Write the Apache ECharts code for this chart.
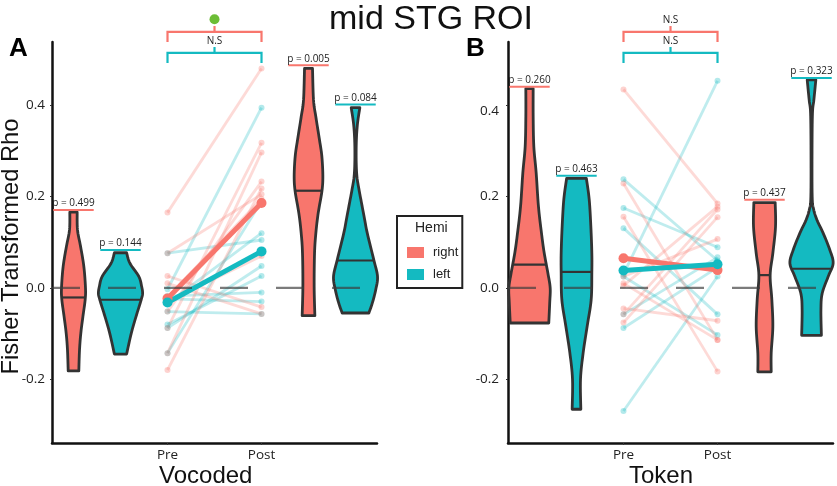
<!DOCTYPE html>
<html><head><meta charset="utf-8">
<style>html,body{margin:0;padding:0;background:#fff}#c{width:837px;height:486px}</style>
<script src="https://cdn.jsdelivr.net/npm/echarts@6/dist/echarts.min.js"></script>
</head><body><div id="c"></div>
<script>
const RED='#F8766D', TEAL='#14BAC1', DARK='#333333';
const yTicks=[-0.2,0,0.2,0.4];
// violin profiles: [rho, half-density]
const vocRightA=[[.166,.078],[.127,.085],[.091,.15],[.047,.22],[0,.255],[-.026,.248],[-.063,.2],[-.099,.156],[-.136,.128],[-.182,.113]];
const vocLeftA=[[.077,.13],[.054,.2],[.025,.39],[.003,.45],[-.012,.47],[-.026,.44],[-.063,.33],[-.099,.23],[-.145,.13]];
const vocRightB=[[.481,.085],[.412,.106],[.375,.156],[.324,.234],[.288,.284],[.244,.305],[.211,.284],[.164,.206],[.12,.156],[.076,.128],[.003,.12],[-.061,.135]];
const vocLeftB=[[.395,.092],[.361,.043],[.324,.018],[.28,.014],[.244,.03],[.215,.075],[.193,.115],[.155,.185],[.12,.25],[.061,.39],[.025,.468],[-.004,.43],[-.034,.355],[-.055,.284]];
const tokRightA=[[.437,.078],[.376,.078],[.31,.092],[.252,.142],[.179,.19],[.12,.255],[.077,.312],[.033,.39],[0,.44],[-.033,.43],[-.077,.41]];
const tokLeftA=[[.24,.21],[.194,.27],[.135,.305],[.077,.326],[.033,.326],[-.026,.312],[-.084,.227],[-.142,.142],[-.2,.085],[-.266,.092]];
const tokRightB=[[.187,.227],[.134,.234],[.076,.177],[.028,.12],[-.026,.156],[-.085,.177],[-.143,.142],[-.184,.142]];
const tokLeftB=[[.456,.092],[.412,.05],[.383,.02],[.302,.011],[.2,.014],[.172,.045],[.148,.12],[.12,.248],[.083,.39],[.054,.46],[.025,.355],[-.012,.227],[-.048,.2],[-.104,.21]];
const vocMedians=[-.021,-.026,.213,.06];
const tokMedians=[.051,.035,.028,.042];
// subject pairs [pre, post]
const vocRightPairs=[[.165,.481],[-.088,.318],[-.143,.297],[-.052,.233],[-.18,.218],[.076,.205],[-.02,.195],[-.03,.07],[.026,-.042],[.01,-.057]];
const vocLeftPairs=[[-.003,.395],[-.143,.19],[-.034,.12],[.076,.105],[-.088,.048],[-.08,.026],[-.018,-.01],[-.024,-.03],[-.052,-.057]];
const tokRightPairs=[[.435,.185],[.229,-.114],[.156,-.183],[.025,.107],[.01,-.114],[-.045,-.072],[-.058,.172],[-.076,.155],[.005,.178]];
const tokLeftPairs=[[-.27,.025],[.03,.454],[.238,.06],[.175,.089],[.131,-.058],[.025,-.103],[-.058,.067],[-.088,.045]];
const vocMeanRight=[-.023,.186], vocMeanLeft=[-.032,.08];
const tokMeanRight=[.065,.039], tokMeanLeft=[.038,.052];
// p-value labels: [slot, bar level, text]
const vocP=[[1,.171,'p = 0.499',RED],[2,.083,'p = 0.144',TEAL],[6,.488,'p = 0.005',RED],[7,.402,'p = 0.084',TEAL]];
const tokP=[[1,.441,'p = 0.260',RED],[2,.246,'p = 0.463',TEAL],[6,.193,'p = 0.437',RED],[7,.46,'p = 0.323',TEAL]];
const preSlot=3, postSlot=5, midSlot=4;
const bracketRight=[.561,.539,.574], bracketLeft=[.515,.493,.528];
const vocNotes=[[.541,'N.S']];
const tokNotes=[[.541,'N.S'],[.587,'N.S']];
const sigDot=[[midSlot,.589]];
const xMin=.5426, xMax=7.457, yMin=-.34, yMax=.539;

function smooth(p){
  const out=[];
  for(let i=0;i<p.length-1;i++){
    const a=p[Math.max(i-1,0)],b=p[i],c=p[i+1],d=p[Math.min(i+2,p.length-1)];
    for(let k=0;k<8;k++){
      const t=k/8,t2=t*t,t3=t2*t;
      out.push([0,1].map(j=>.5*(2*b[j]+(c[j]-a[j])*t+(2*a[j]-5*b[j]+4*c[j]-d[j])*t2+(3*b[j]-a[j]-3*c[j]+d[j])*t3)));
    }
  }
  out.push(p[p.length-1]);
  return out;
}
function widthAt(prof,v){
  for(let i=0;i<prof.length-1;i++){
    const a=prof[i],b=prof[i+1];
    if(v<=a[0]&&v>=b[0]) return a[1]+(b[1]-a[1])*(a[0]-v)/(a[0]-b[0]);
  }
  return prof[0][1];
}
function violin(g,slot,prof,med,color){
  return {type:'custom',xAxisIndex:g,yAxisIndex:g,z:3,silent:true,data:[[slot,med]],
    renderItem(params,api){
      const right=smooth(prof.map(r=>api.coord([slot+r[1],r[0]])));
      const left=smooth(prof.map(r=>api.coord([slot-r[1],r[0]]))).reverse();
      const w=widthAt(prof,med);
      const m0=api.coord([slot-w,med]),m1=api.coord([slot+w,med]);
      return {type:'group',children:[
        {type:'polygon',shape:{points:right.concat(left)},style:{fill:color,stroke:DARK,lineWidth:2.8,lineJoin:'round'}},
        {type:'line',shape:{x1:m0[0],y1:m0[1],x2:m1[0],y2:m1[1]},style:{stroke:DARK,lineWidth:2.2}}
      ]};
    }};
}
function pairs(g,rows,color){
  return rows.map(r=>({type:'line',xAxisIndex:g,yAxisIndex:g,z:2,silent:true,clip:false,
    data:[[preSlot,r[0]],[postSlot,r[1]]],symbol:'circle',symbolSize:6,animation:false,
    lineStyle:{color,width:2.8,opacity:.27},itemStyle:{color,opacity:.32}}));
}
function mean(g,name,vals,color){
  return {type:'line',name,xAxisIndex:g,yAxisIndex:g,z:4,silent:true,clip:false,
    data:[[preSlot,vals[0]],[postSlot,vals[1]]],symbol:'circle',symbolSize:10,
    lineStyle:{color,width:5},itemStyle:{color}};
}
function pLabels(g,rows){
  return {type:'custom',xAxisIndex:g,yAxisIndex:g,z:6,silent:true,data:rows.map(r=>[r[0],r[1]]),
    renderItem(params,api){
      const r=rows[params.dataIndex];
      const a=api.coord([r[0]-.43,r[1]]),b=api.coord([r[0]+.43,r[1]]);
      return {type:'group',children:[
        {type:'line',shape:{x1:a[0],y1:a[1],x2:b[0],y2:b[1]},style:{stroke:r[3],lineWidth:2}},
        {type:'text',style:{text:r[2],x:(a[0]+b[0])/2,y:a[1]-1.5,align:'center',verticalAlign:'bottom',fill:'#222',font:'10px "Open Sans"'}}
      ]};
    }};
}
function bracket(g,b,color){
  return {type:'custom',xAxisIndex:g,yAxisIndex:g,z:6,silent:true,data:[[midSlot,b[0]]],
    renderItem(params,api){
      const p=[[preSlot,b[1]],[preSlot,b[0]],[postSlot,b[0]],[postSlot,b[1]]].map(q=>api.coord(q));
      const s0=api.coord([midSlot,b[0]]),s1=api.coord([midSlot,b[2]]);
      return {type:'group',children:[
        {type:'polyline',shape:{points:p},style:{stroke:color,lineWidth:2.2,fill:null}},
        {type:'line',shape:{x1:s0[0],y1:s0[1],x2:s1[0],y2:s1[1]},style:{stroke:color,lineWidth:2.2}}
      ]};
    }};
}
function notes(g,rows){
  return {type:'custom',xAxisIndex:g,yAxisIndex:g,z:6,silent:true,data:rows.map(r=>[midSlot,r[0]]),
    renderItem(params,api){
      const r=rows[params.dataIndex],p=api.coord([midSlot,r[0]]);
      return {type:'text',style:{text:r[1],x:p[0],y:p[1],align:'center',verticalAlign:'middle',fill:'#222',font:'10px "Open Sans"'}};
    }};
}
function zero(g){
  return {type:'line',xAxisIndex:g,yAxisIndex:g,z:5,silent:true,symbol:'none',
    data:[[xMin,0],[xMax,0]],lineStyle:{color:'rgba(60,60,60,.68)',width:2.3,type:[28,28]}};
}
function xAx(g){
  return {type:'value',gridIndex:g,min:xMin,max:xMax,splitLine:{show:false},
    axisLine:{onZero:false,lineStyle:{color:'#111',width:2.5}},
    axisTick:{customValues:[preSlot,postSlot],length:2,lineStyle:{color:'#333'}},
    axisLabel:{customValues:[preSlot,postSlot],margin:5,fontFamily:'Open Sans',fontSize:13.5,color:'#222',
      formatter:v=>v===preSlot?'Pre':'Post',hideOverlap:false,showMinLabel:true,showMaxLabel:true}};
}
function yAx(g,labels,margin){
  return {type:'value',gridIndex:g,min:yMin,max:yMax,splitLine:{show:false},
    axisLine:{onZero:false,lineStyle:{color:'#111',width:2.5}},
    axisTick:{customValues:yTicks,length:2,lineStyle:{color:'#333'}},
    axisLabel:{customValues:labels,margin,fontFamily:'Open Sans',fontSize:13.5,color:'#222',formatter:v=>v.toFixed(1)}};
}
const option={
  animation:false,
  textStyle:{fontFamily:'Liberation Sans'},
  title:[
    {text:'mid STG ROI',left:324,top:-2,textStyle:{fontFamily:'Liberation Sans',fontSize:34,fontWeight:'normal',color:'#111'}},
    {text:'A',left:9,top:36,padding:0,textStyle:{fontFamily:'Liberation Sans',fontSize:26,fontWeight:'bold',color:'#000'}},
    {text:'B',left:466,top:36,padding:0,textStyle:{fontFamily:'Liberation Sans',fontSize:26,fontWeight:'bold',color:'#000'}},
    {text:'Vocoded',left:159,top:464,padding:0,textStyle:{fontFamily:'Liberation Sans',fontSize:24,fontWeight:'normal',color:'#111'}},
    {text:'Token',left:629,top:464,padding:0,textStyle:{fontFamily:'Liberation Sans',fontSize:24,fontWeight:'normal',color:'#111'}}
  ],
  legend:{show:true,orient:'vertical',left:397,top:216,data:['right','left'],icon:'rect',itemWidth:17,itemHeight:11,itemGap:9,
    padding:[30,4,7,10],borderColor:'#222',borderWidth:2,selectedMode:false,
    textStyle:{fontFamily:'Liberation Sans',fontSize:13,color:'#222',padding:[0,0,0,4]}},
  graphic:[
    {type:'text',left:415,top:221,style:{text:'Hemi',font:'14px "Liberation Sans"',fill:'#222'}},
    {type:'text',x:11,y:246.5,rotation:Math.PI/2,style:{text:'Fisher Transformed Rho',align:'center',verticalAlign:'middle',font:'23.7px "Liberation Sans"',fill:'#111'}}
  ],
  grid:[{left:52,top:42,width:325,height:401},{left:508,top:42,width:325,height:401}],
  xAxis:[xAx(0),xAx(1)],
  yAxis:[yAx(0,yTicks,7),yAx(1,[-.2,0,.2,.388],9)],
  series:[
    ...pairs(0,vocLeftPairs,TEAL),...pairs(0,vocRightPairs,RED),
    ...pairs(1,tokLeftPairs,TEAL),...pairs(1,tokRightPairs,RED),
    mean(0,'right',vocMeanRight,RED),mean(0,'left',vocMeanLeft,TEAL),
    mean(1,'right',tokMeanRight,RED),mean(1,'left',tokMeanLeft,TEAL),
    violin(0,1,vocRightA,vocMedians[0],RED),violin(0,2,vocLeftA,vocMedians[1],TEAL),
    violin(0,6,vocRightB,vocMedians[2],RED),violin(0,7,vocLeftB,vocMedians[3],TEAL),
    violin(1,1,tokRightA,tokMedians[0],RED),violin(1,2,tokLeftA,tokMedians[1],TEAL),
    violin(1,6,tokRightB,tokMedians[2],RED),violin(1,7,tokLeftB,tokMedians[3],TEAL),
    zero(0),zero(1),
    pLabels(0,vocP),pLabels(1,tokP),
    bracket(0,bracketRight,RED),bracket(0,bracketLeft,TEAL),
    bracket(1,bracketRight,RED),bracket(1,bracketLeft,TEAL),
    notes(0,vocNotes),notes(1,tokNotes),
    {type:'scatter',xAxisIndex:0,yAxisIndex:0,clip:false,silent:true,z:6,data:sigDot,symbolSize:10,itemStyle:{color:'#6CBD36',opacity:1}}
  ]
};
const chart=echarts.init(document.getElementById('c'),null,{renderer:'canvas'});
chart.setOption(option);
</script></body></html>
